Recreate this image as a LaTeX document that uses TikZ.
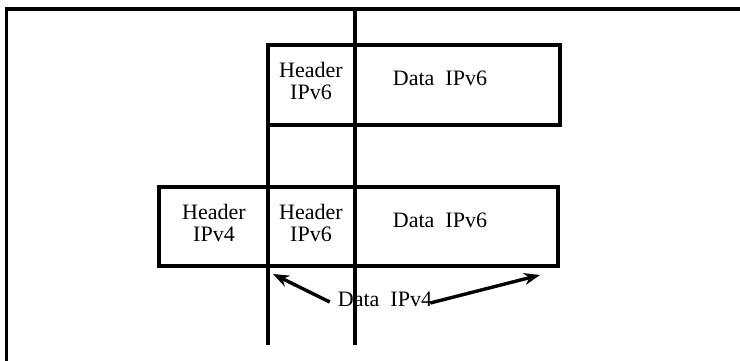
\documentclass[tikz,border=0pt]{standalone}
\usepackage{fontspec}
\setmainfont{Liberation Serif}
\usetikzlibrary{arrows.meta}
\begin{document}
\begin{tikzpicture}[x=1pt,y=-1pt,
  frame/.style={line width=3.6pt},
  rule/.style={line width=3.4pt},
  cell/.style={draw,line width=3.4pt},
  lbl/.style={font=\fontsize{22}{22}\selectfont,align=center,inner sep=0pt},
  pointer/.style={line width=3.4pt,-{Stealth[length=16pt,width=12pt]}}]
\useasboundingbox (0,0) rectangle (740,360);
% open frame: top and left edges
\draw[frame] (6.5,362) -- (6.5,9) -- (742,9);
% upper packet
\draw[cell] (268,45) rectangle (560,125);
% lower packet
\draw[cell] (159,187) rectangle (558,266);
% cut lines through both packets
\coordinate (c1t) at (268,45);
\coordinate (c1b) at (268,345);
\coordinate (c2t) at (355,9);
\coordinate (c2b) at (355,345);
\draw[rule] (c1t) -- (c1b);
\draw[rule] (c2t) -- (c2b);
% labels
\node[lbl] (h6a) at (311,81) {Header\\IPv6};
\node[lbl] (d6a) at (440,78) {Data\ \ IPv6};
\node[lbl] (h4)  at (214,223) {Header\\IPv4};
\node[lbl] (h6b) at (311,223) {Header\\IPv6};
\node[lbl] (d6b) at (440,220) {Data\ \ IPv6};
\node[lbl] (d4)  at (385,299) {Data\ \ IPv4};
% arrows from the IPv4 payload label
\coordinate (la) at (273,274);
\coordinate (ra) at (540,275);
\draw[pointer] (d4.west) ++(-8,3) -- (la);
\draw[pointer] (d4.east) ++(-2,4) -- (ra);
\end{tikzpicture}
\end{document}
